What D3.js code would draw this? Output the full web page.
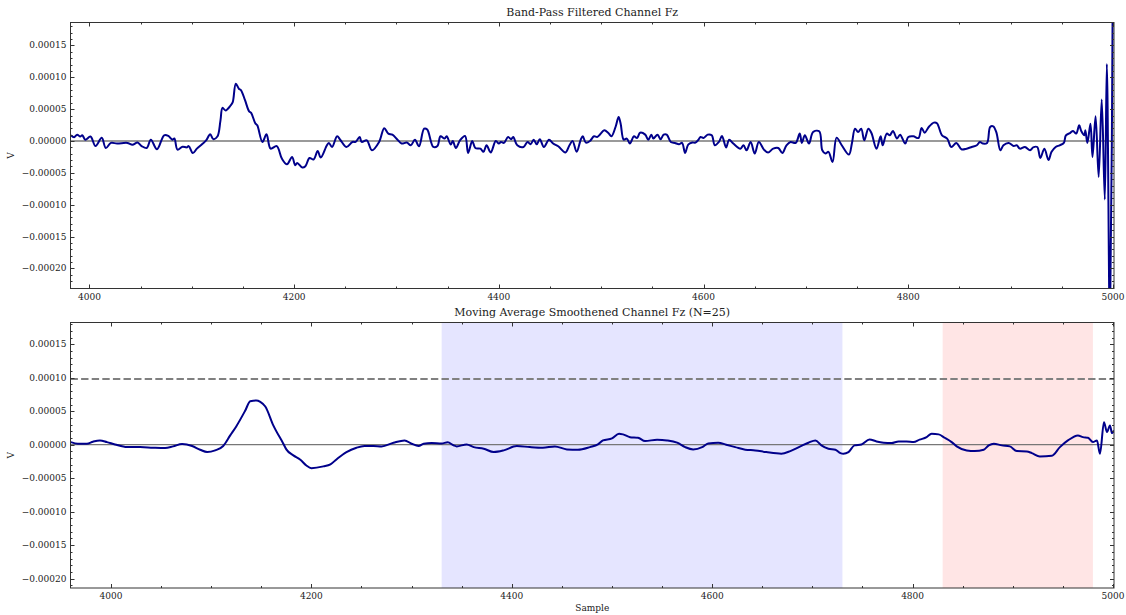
<!DOCTYPE html>
<html>
<head>
<meta charset="utf-8">
<script src="https://cdn.jsdelivr.net/npm/d3@7"></script>
<style>
  body { margin: 0; background: #fff; }
  svg { display: block; }
  text { font-family: "DejaVu Serif", serif; fill: #222; }
</style>
</head>
<body>
<svg id="chart" width="1126" height="615"></svg>
<script>
// Channel Fz, band-pass filtered: [sample, µV]
const filtered = [
  [3982,9],[3985,6],[3988,10],[3991,7],[3993,9],[3996,2],[4001,7],[4006,-8],[4012,5],[4016,-11],[4021,-3],[4027,-4],[4037,-3],[4042,-6],[4047,-2.5],[4051,-8],[4056,-11],[4060,2],[4066,-13],[4073,9],[4077,8],[4081,2],[4083,4],[4086,-13.5],[4091,-9],[4095,-10],[4097,-8],[4101,-19],[4105,-12],[4110,-5],[4114,1],[4118,10.5],[4121,3],[4125,7],[4128,32],[4130,52],[4133,48],[4138,56],[4140,61],[4143,90],[4146,82],[4148,80],[4152,64],[4156,46.5],[4158,44],[4162,28],[4164,24.6],[4169,-1.5],[4173,10.5],[4177,-12],[4183,-8],[4188,-27.6],[4193,-36.5],[4198,-25],[4201,-38],[4203,-34.5],[4208,-41.7],[4211,-39.6],[4215,-26.6],[4219,-29],[4223,-15.7],[4226,-26],[4232,-6.7],[4234,-3],[4237,-9.4],[4242,7.4],[4245,2],[4251,-9.4],[4257,-1.5],[4260,-1.5],[4264,6.3],[4266,-1.5],[4271,1],[4276,-14.6],[4283,-1.5],[4288,20],[4292,11.6],[4296,10],[4301,2],[4305,-4],[4310,-2.5],[4314,-6.7],[4318,2],[4322,-8.3],[4327,19.4],[4330,18],[4336,-9.4],[4340,-7.8],[4343,7.4],[4347,3.8],[4349,7.4],[4353,-5.6],[4355,0],[4358,-11],[4362,1],[4367,7.8],[4370,-18.8],[4374,0],[4377,-11],[4382,-12],[4385,-17],[4388,-6.7],[4392,-18],[4397,0],[4400,-4],[4402,-1.5],[4405,-3],[4409,6.3],[4412,2.7],[4414,6.3],[4418,-6.7],[4424,-9.4],[4428,-1.5],[4431,-5],[4434,2],[4437,-5],[4440,2.7],[4444,-9.4],[4449,2],[4453,-4],[4458,-8.3],[4465,-18],[4469,-6.7],[4472,0],[4476,-17],[4480,2],[4482,7.4],[4485,-2.5],[4489,0],[4493,7.4],[4496,6.3],[4499,10.5],[4503,16.8],[4507,12.5],[4510,7.4],[4514,22],[4517,37.6],[4519,27],[4522,2],[4525,3.8],[4528,-4],[4532,7.4],[4535,4.7],[4538,13],[4543,10],[4546,2],[4549,10],[4551,3.8],[4555,10],[4558,2.7],[4561,10],[4564,10],[4568,-1.5],[4572,-3],[4576,-5],[4579,-3],[4582,-18.8],[4585,-5.6],[4589,-2.5],[4592,-2.5],[4595,2],[4597,6.3],[4600,4.7],[4604,10],[4608,9],[4611,-6.7],[4615,-1.5],[4618,7.8],[4622,-10],[4625,2],[4629,-4],[4636,-12],[4639,-6.7],[4642,-14.6],[4646,-1.5],[4650,-19.7],[4654,-1.5],[4659,-13.5],[4663,-18],[4668,-12],[4673,-11],[4677,-18.8],[4681,-6.7],[4685,-1.5],[4690,-3],[4694,11.6],[4696,-3],[4699,9],[4703,-4],[4707,14],[4713,15.2],[4716,-14.6],[4719,-19.7],[4722,-17],[4726,-33],[4730,5.3],[4735,-6.7],[4742,-21.3],[4745,-3],[4748,19.4],[4751,14],[4754,19.4],[4757,1],[4761,19.4],[4764,12.5],[4769,-12],[4773,7.4],[4775,-6.7],[4779,11.6],[4782,9],[4785,15.7],[4789,3.8],[4792,10],[4797,-4],[4800,6.3],[4805,7.4],[4810,4.7],[4813,20.4],[4816,13],[4820,22],[4825,28.8],[4828,28],[4833,9],[4838,3.8],[4842,-9.4],[4847,-3],[4852,-13],[4857,-12],[4862,-9.4],[4867,-6.7],[4870,-1.5],[4873,-4],[4877,-3],[4880,22],[4883,23],[4886,14],[4890,-14.6],[4893,-6.7],[4898,-3],[4903,-7.8],[4906,-6.7],[4909,-12],[4914,-9.4],[4919,-14.6],[4922,-10],[4926,-9.4],[4929,-26.6],[4933,-12],[4937,-30],[4940,-17],[4944,-9.4],[4948,-6.7],[4952,-3],[4954,9],[4958,12.5],[4961,15.7],[4964,11.6],[4967,24.6],[4969,15.7],[4972,9],[4973,16.8],[4975,-3],[4978,27],[4980,-25],[4983,38.7],[4986,-56.4],[4989,65.3],[4992,-91.8],[4994,121],[4997,-300],[5000,300]
];

// Same channel after a 25-sample moving average: [sample, µV]
const smoothed = [
  [3960,3.9],[3967,1.5],[3976,1.5],[3982,4.5],[3989,6.4],[3996,3.9],[4004,0.4],[4016,-3.6],[4029,-3.6],[4042,-4.5],[4054,-5],[4062,-2.5],[4071,0.9],[4081,-2],[4089,-7.5],[4096,-11],[4104,-8.5],[4112,-2],[4119,13.9],[4125,27.3],[4134,51],[4139,65],[4145,66],[4149,64],[4154,57],[4162,28.8],[4172,1.5],[4175,-7],[4182,-16],[4189,-22.4],[4195,-31],[4200,-35],[4212,-32.4],[4219,-29.4],[4225,-22],[4235,-11],[4245,-4.5],[4253,-2],[4262,-2],[4270,-2.5],[4282,3],[4293,6.4],[4300,1.5],[4307,-2],[4312,1.5],[4320,2.4],[4330,1.9],[4336,3.6],[4342,-1],[4345,-2.5],[4355,0.4],[4362,-3.6],[4372,-6],[4382,-11],[4392,-8.5],[4405,-2],[4418,-3.6],[4431,-4.5],[4443,-2.5],[4455,-7],[4466,-7.5],[4478,-3.6],[4486,0.4],[4491,6.4],[4500,9.4],[4507,16.4],[4511,15.4],[4518,11.3],[4526,10.4],[4533,5.4],[4545,7.5],[4555,6.4],[4565,3],[4573,-3.6],[4581,-7],[4590,-3.6],[4596,1.9],[4606,3],[4614,0],[4623,-3.6],[4633,-7.5],[4643,-8.5],[4654,-11],[4669,-13.4],[4678,-9.5],[4688,-2.5],[4696,3],[4703,6.4],[4709,-1],[4716,-6],[4723,-7.5],[4728,-12.5],[4731,-13.4],[4736,-11],[4742,-1],[4749,0.4],[4757,7.9],[4764,4.9],[4771,3],[4779,2.4],[4786,4.9],[4794,4.9],[4801,3.9],[4807,7.5],[4814,11.3],[4819,16.4],[4826,15.4],[4832,10.4],[4839,3.9],[4844,-2.5],[4854,-8.5],[4862,-9.5],[4871,-7.5],[4876,-1],[4881,1.5],[4889,-1],[4897,-2.5],[4904,-9.5],[4914,-10],[4919,-12.5],[4927,-17.5],[4939,-16.4],[4947,-3.6],[4955,6.4],[4965,13.9],[4970,11.3],[4975,10.4],[4980,3.9],[4984,6.4],[4987,-13.4],[4991,33.7],[4994,18.8],[4997,28.8],[4999,17.3],[5001,21.3]
];

// Highlighted sample windows
const blueWindow = [4330, 4730];
const redWindow = [4830, 4980];
// Detection threshold (V)
const threshold = 0.000098;

// Axis ticks
const xTicks = [4000, 4200, 4400, 4600, 4800, 5000];
const yTicks = [-0.0002, -0.00015, -0.0001, -0.00005, 0, 0.00005, 0.0001, 0.00015];

const UV = 1e-6;
const LINE = "#00008b";

const svg = d3.select("#chart");
const X0 = 70.5, X1 = 1114;

const panels = [
  { id: "bp", title: "Band-Pass Filtered Channel Fz", top: 22.5, bottom: 288.5,
    xDomain: [3981.5, 5001], yDomain: [-0.0002315, 0.000186], data: filtered,
    zeroColor: "#9a9a9a", zeroWidth: 1.8, curve: d3.curveCatmullRom.alpha(0.5) },
  { id: "ma", title: "Moving Average Smoothened Channel Fz (N=25)", top: 322.5, bottom: 588,
    xDomain: [3959.6, 5001], yDomain: [-0.000214, 0.0001825], data: smoothed,
    zeroColor: "#777", zeroWidth: 1.3, curve: d3.curveMonotoneX,
    spans: [[blueWindow, "rgba(0,0,255,0.1)"], [redWindow, "rgba(255,0,0,0.1)"]],
    threshold: threshold, xLabel: "Sample" }
];

const fmtY = d3.format(".5f");

panels.forEach(p => {
  const x = d3.scaleLinear().domain(p.xDomain).range([X0, X1]);
  const y = d3.scaleLinear().domain(p.yDomain).range([p.bottom, p.top]);
  const g = svg.append("g");

  g.append("clipPath").attr("id", "clip-" + p.id)
    .append("rect").attr("x", X0).attr("y", p.top)
    .attr("width", X1 - X0).attr("height", p.bottom - p.top);

  const plot = g.append("g").attr("clip-path", `url(#clip-${p.id})`);

  (p.spans || []).forEach(([win, fill]) => {
    plot.append("rect")
      .attr("x", x(win[0])).attr("width", x(win[1]) - x(win[0]))
      .attr("y", p.top).attr("height", p.bottom - p.top)
      .attr("fill", fill);
  });

  if (p.threshold !== undefined) {
    plot.append("line")
      .attr("x1", X0).attr("x2", X1)
      .attr("y1", y(p.threshold)).attr("y2", y(p.threshold))
      .attr("stroke", "#808080").attr("stroke-width", 2)
      .attr("stroke-dasharray", "7.4,3.2");
  }

  plot.append("line")
    .attr("x1", X0).attr("x2", X1)
    .attr("y1", y(0)).attr("y2", y(0))
    .attr("stroke", p.zeroColor).attr("stroke-width", p.zeroWidth);

  const line = d3.line()
    .x(d => x(d[0]))
    .y(d => y(d[1] * UV))
    .curve(p.curve);

  plot.append("path")
    .datum(p.data)
    .attr("d", line)
    .attr("fill", "none")
    .attr("stroke", LINE)
    .attr("stroke-width", 2)
    .attr("stroke-linejoin", "round");

  // frame
  g.append("rect")
    .attr("x", X0).attr("y", p.top)
    .attr("width", X1 - X0).attr("height", p.bottom - p.top)
    .attr("fill", "none").attr("stroke", "#333").attr("stroke-width", 1);

  const ticks = g.append("g").attr("stroke", "#333").attr("stroke-width", 1);

  // y ticks, inward on both sides
  const yMinor = d3.range(-23, 19).map(k => k * 1e-5)
    .filter(v => v >= p.yDomain[0] && v <= p.yDomain[1]);
  yMinor.forEach(v => {
    const yy = Math.round(y(v)) + 0.5;
    ticks.append("line").attr("x1", X0).attr("x2", X0 + 2).attr("y1", yy).attr("y2", yy);
    ticks.append("line").attr("x1", X1).attr("x2", X1 - 2).attr("y1", yy).attr("y2", yy);
  });
  yTicks.forEach(v => {
    const yy = Math.round(y(v)) + 0.5;
    ticks.append("line").attr("x1", X0).attr("x2", X0 + 4).attr("y1", yy).attr("y2", yy);
    ticks.append("line").attr("x1", X1).attr("x2", X1 - 4).attr("y1", yy).attr("y2", yy);
    g.append("text")
      .attr("x", 66.5).attr("y", y(v)).attr("dy", "0.34em")
      .attr("text-anchor", "end").attr("font-size", 9)
      .text(fmtY(v));
  });

  // x ticks, inward on top and bottom
  const xMinor = d3.range(3950, 5001, 50)
    .filter(v => v >= p.xDomain[0] && v <= p.xDomain[1]);
  xMinor.forEach(v => {
    const xx = Math.round(x(v)) + 0.5;
    ticks.append("line").attr("x1", xx).attr("x2", xx).attr("y1", p.bottom).attr("y2", p.bottom - 2);
    ticks.append("line").attr("x1", xx).attr("x2", xx).attr("y1", p.top).attr("y2", p.top + 2);
  });
  xTicks.forEach(v => {
    const xx = Math.round(x(v)) + 0.5;
    ticks.append("line").attr("x1", xx).attr("x2", xx).attr("y1", p.bottom).attr("y2", p.bottom - 4);
    ticks.append("line").attr("x1", xx).attr("x2", xx).attr("y1", p.top).attr("y2", p.top + 4);
    g.append("text")
      .attr("x", x(v)).attr("y", p.bottom + 11)
      .attr("text-anchor", "middle").attr("font-size", 9)
      .text(v);
  });

  // title and axis labels
  g.append("text")
    .attr("x", (X0 + X1) / 2).attr("y", p.top - 7)
    .attr("text-anchor", "middle").attr("font-size", 11)
    .text(p.title);

  g.append("text")
    .attr("transform", `translate(14,${(p.top + p.bottom) / 2}) rotate(-90)`)
    .attr("text-anchor", "middle").attr("font-size", 9)
    .text("V");

  if (p.xLabel) {
    g.append("text")
      .attr("x", (X0 + X1) / 2).attr("y", p.bottom + 23)
      .attr("text-anchor", "middle").attr("font-size", 9)
      .text(p.xLabel);
  }
});
</script>
</body>
</html>
